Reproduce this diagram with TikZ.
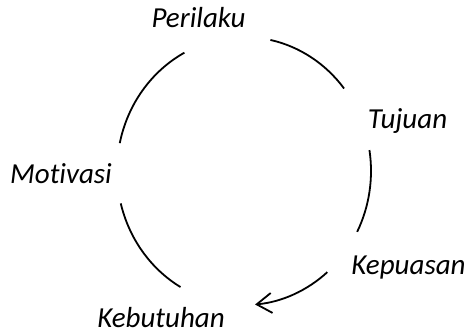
\documentclass[tikz,border=0pt]{standalone}
\usepackage{fontspec}
\setmainfont{Carlito}[Ligatures=NoCommon]
\usetikzlibrary{arrows.meta,calc}
\begin{document}
\begin{tikzpicture}[x=1pt,y=-1pt,
  lbl/.style={font=\itshape\fontsize{29}{34}\selectfont,inner sep=0pt,anchor=base},
  cyc/.style={line width=1.8pt,line cap=butt}]
  \useasboundingbox (0,0) rectangle (468,333);
  % labels around the cycle
  \node[lbl] (per) at (198.5,27) {Perilaku};
  \node[lbl] (tuj) at (407.5,128) {Tujuan};
  \node[lbl] (mot) at (61,183) {Motivasi};
  \node[lbl] (kep) at (408.5,274) {Kepuasan};
  \node[lbl] (keb) at (161,327) {Kebutuhan};
  % centre of the cycle and arc end points
  \coordinate (c) at (244,171);
  \def\RX{127}\def\RY{134}
  \foreach \n/\a in {p1/-78,t2/-9,k3/49,b4/120,m5/192}
    \coordinate (\n) at ($(c)+({\RX*cos(\a)},{\RY*sin(\a)})$);
  % the five arcs between the labels
  \draw[cyc] (p1) arc[start angle=-78,end angle=-38,x radius=\RX,y radius=\RY];
  \draw[cyc] (t2) arc[start angle=-9,end angle=27,x radius=\RX,y radius=\RY];
  \draw[cyc,-{Straight Barb[length=15pt,width=20pt,line width=1.8pt]}]
    (k3) arc[start angle=49,end angle=85,x radius=\RX,y radius=\RY];
  \draw[cyc] (b4) arc[start angle=120,end angle=166,x radius=\RX,y radius=\RY];
  \draw[cyc] (m5) arc[start angle=192,end angle=242,x radius=\RX,y radius=\RY];
\end{tikzpicture}
\end{document}
